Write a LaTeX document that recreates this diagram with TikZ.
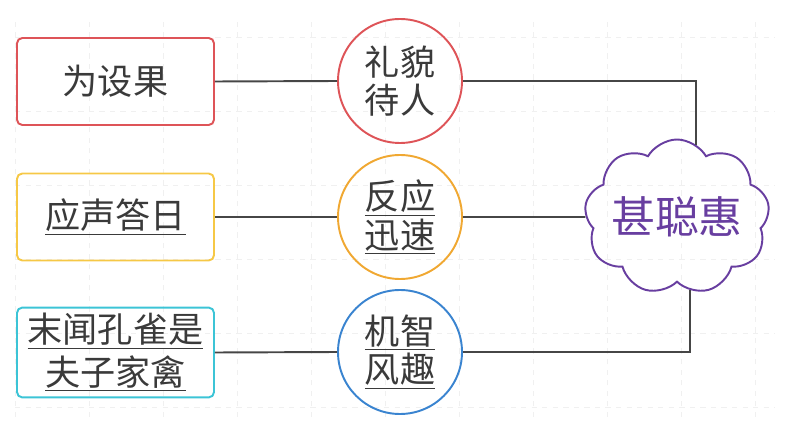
\documentclass[tikz,border=0pt]{standalone}
\usepackage{fontspec}
\newfontfamily\cjk{Noto Sans CJK SC}
\usepackage{xcolor}
\definecolor{bred}{RGB}{222,84,88}
\definecolor{byellow}{RGB}{246,200,70}
\definecolor{bcyan}{RGB}{60,196,214}
\definecolor{corange}{RGB}{240,168,50}
\definecolor{cblue}{RGB}{58,132,208}
\definecolor{cpurple}{RGB}{104,62,160}
\definecolor{tgray}{RGB}{58,58,58}
\definecolor{lgray}{RGB}{70,70,70}
\usetikzlibrary{positioning,shapes.symbols,calc}

\begin{document}
\begin{tikzpicture}[
  sbox/.style={rectangle, rounded corners=3pt, line width=1.1pt,
               minimum width=3.94cm, minimum height=1.74cm,
               font=\cjk\fontsize{20}{24}\selectfont, align=center, text=tgray},
  cnode/.style={circle, line width=1.1pt, minimum size=2.48cm, inner sep=0pt,
                font=\cjk\fontsize{20}{22}\selectfont, align=center, text=tgray},
  link/.style={line width=1.1pt, draw=lgray}
]
\useasboundingbox (0,0) rectangle (15.7,8.54);

% Background grid
\foreach \x in {0.3,1.78,...,15.5}
  \draw[gray!12, dashed] (\x,0.2) -- (\x,8.2);
\foreach \y in {0.4,1.88,...,8.2}
  \draw[gray!12, dashed] (0.3,\y) -- (15.5,\y);

% Source boxes
\node[sbox, draw=bred]    (src1) at (2.31,6.91) {为设果};
\node[sbox, draw=byellow] (src2) at (2.31,4.20) {\underline{应声答日}};
\node[sbox, draw=bcyan]   (src3) at (2.31,1.49) {\underline{末闻孔雀是}\\\underline{夫子家禽}};

% Trait circles
\node[cnode, draw=bred]    (trait1) at (8.0,6.92) {礼貌\\待人};
\node[cnode, draw=corange] (trait2) at (8.0,4.20) {\underline{反应}\\\underline{迅速}};
\node[cnode, draw=cblue]   (trait3) at (8.0,1.50) {\underline{机智}\\\underline{风趣}};

% Central cloud
\node[cloud, cloud puffs=9, cloud puff arc=120, aspect=1.25, inner sep=-12pt,
      draw=cpurple, line width=1.1pt, minimum width=3.7cm, minimum height=3.1cm,
      font=\cjk\fontsize{25}{30}\selectfont, text=cpurple] (hui) at (13.54,4.20) {甚聪惠};

% Links
\draw[link] (src1.east) -- (trait1.west);
\draw[link] (src2.east) -- (trait2.west);
\draw[link] (src3.east) -- (trait3.west);
\draw[link] (trait1.east) -| (hui.75);
\draw[link] (trait2.east) -- (hui.west);
\draw[link] (trait3.east) -| (hui.-80);
\end{tikzpicture}
\end{document}
